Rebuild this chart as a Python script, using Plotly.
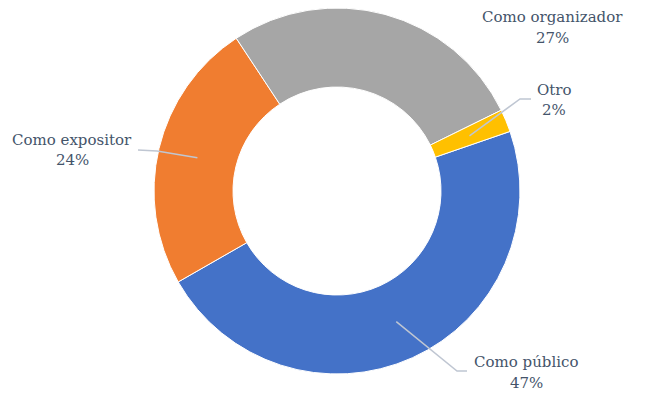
import math
import plotly.graph_objects as go

W, H = 653, 405
OFF = 8  # page body margin: the figure sits 8px in from the window corner

categories = ["Como público", "Como expositor", "Como organizador", "Otro"]
values = [47, 24, 27, 2]
colors = ["#4472C8", "#F07D30", "#A6A6A6", "#FFC000"]

# donut geometry in window pixels
cx, cy, r_out, r_in = 337, 191, 183, 104
start = 71  # first slice starts 71 deg clockwise from 12 o'clock

# label placement (window pixels): centre of name line, centre of pct line, leader elbow/end
label_pos = {
    "Como público": dict(name=(526, 362), pct=(526, 383), elbow=(457, 371), end=(467, 371)),
    "Como expositor": dict(name=(72, 140), pct=(72, 160), elbow=(157, 151), end=(138, 150)),
    "Como organizador": dict(name=(552, 17), pct=(552, 38)),
    "Otro": dict(name=(554, 90), pct=(554, 110), elbow=(520, 99), end=(531, 99)),
}

TEXT = "#44546A"
LEADER = "#BFC6D2"
FONT = "DejaVu Serif"


def px(x, y):
    # window pixels -> paper coordinates
    return (x - OFF) / W, 1 - (y - OFF) / H


fig = go.Figure(go.Pie(
    labels=categories,
    values=values,
    hole=r_in / r_out,
    sort=False,
    direction="clockwise",
    rotation=start,
    marker=dict(colors=colors, line=dict(color="white", width=1)),
    textinfo="none",
    hoverinfo="label+percent",
    showlegend=False,
    domain=dict(x=[px(cx - r_out, 0)[0], px(cx + r_out, 0)[0]],
                y=[px(0, cy + r_out)[1], min(1, px(0, cy - r_out)[1])]),
))

total = sum(values)
r_mid = (r_out + r_in) / 2
angle = start
shapes = []
annotations = []
for cat, v in zip(categories, values):
    span = 360 * v / total
    mid = math.radians(angle + span / 2)
    angle += span
    pos = label_pos[cat]
    pct = f"{round(100 * v / total)}%"
    for txt, key in ((cat, "name"), (pct, "pct")):
        x, y = px(*pos[key])
        annotations.append(dict(x=x, y=y, xref="paper", yref="paper", text=txt,
                                showarrow=False, xanchor="center", yanchor="middle",
                                font=dict(family=FONT, size=15, color=TEXT)))
    if "elbow" in pos:
        tx = cx + r_mid * math.sin(mid)
        ty = cy - r_mid * math.cos(mid)
        pts = [px(tx, ty), px(*pos["elbow"]), px(*pos["end"])]
        path = "M " + " L ".join(f"{a},{b}" for a, b in pts)
        shapes.append(dict(type="path", path=path, xref="paper", yref="paper",
                           line=dict(color=LEADER, width=1.5)))

fig.update_layout(
    width=W, height=H,
    margin=dict(l=0, r=0, t=0, b=0),
    paper_bgcolor="white",
    plot_bgcolor="white",
    shapes=shapes,
    annotations=annotations,
)

fig.write_html("out.html")
